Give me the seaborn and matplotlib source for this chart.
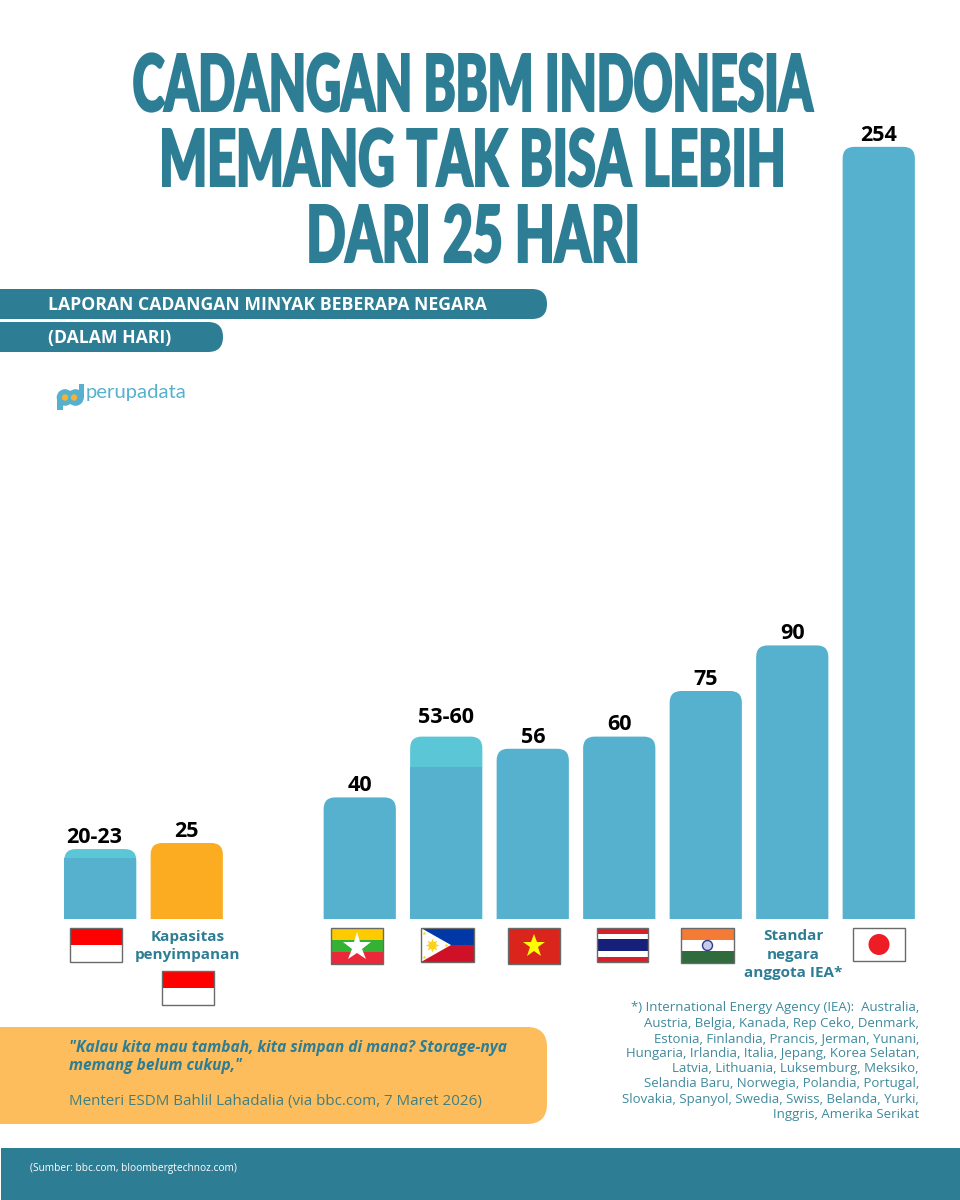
import numpy as np
import pandas as pd
import matplotlib
matplotlib.use("Agg")
import matplotlib.pyplot as plt
import seaborn as sns
from matplotlib.font_manager import FontProperties
from matplotlib.patches import FancyBboxPatch, Rectangle, Polygon, Circle
from matplotlib.patheffects import AbstractPathEffect
from matplotlib.textpath import TextPath
from matplotlib.transforms import Affine2D

categories = ["Indonesia", "Kapasitas penyimpanan", "", "Myanmar", "Filipina", "Vietnam",
              "Thailand", "India", "Standar IEA", "Jepang"]
upper_values = [23, 25, 0, 40, 60, 56, 60, 75, 90, 254]
lower_values = [20, 0, 0, 0, 50, 0, 0, 0, 0, 0]
value_labels = ["20-23", "25", "", "40", "53-60", "56", "60", "75", "90", "254"]
title_lines = ["CADANGAN BBM INDONESIA", "MEMANG TAK BISA LEBIH", "DARI 25 HARI"]
note_lines = ["*) International Energy Agency (IEA):  Australia,",
              "Austria, Belgia, Kanada, Rep Ceko, Denmark,",
              "Estonia, Finlandia, Prancis, Jerman, Yunani,",
              "Hungaria, Irlandia, Italia, Jepang, Korea Selatan,",
              "Latvia, Lithuania, Luksemburg, Meksiko,",
              "Selandia Baru, Norwegia, Polandia, Portugal,",
              "Slovakia, Spanyol, Swedia, Swiss, Belanda, Yurki,",
              "Inggris, Amerika Serikat"]

TEAL = "#2d7d94"
BAR = "#55b1cd"
CAP = "#5ac6d6"
ORANGE = "#fbac20"
QUOTE = "#fdbd5c"

sns.set_theme(style="white")
plt.rcParams["font.family"] = ["Open Sans", "DejaVu Sans"]

fig = plt.figure(figsize=(9.6, 12), dpi=100, facecolor="white")
bg = fig.add_axes([0, 0, 1, 1])
bg.set_xlim(0, 960); bg.set_ylim(1200, 0); bg.axis("off")


def pill(x0, y0, x1, y1, r, color):
    bg.add_patch(FancyBboxPatch((x0 - 40, y0), x1 - x0 + 40, y1 - y0,
                                boxstyle=f"round,pad=0,rounding_size={r}", fc=color, ec="none"))


# ---------- bars ----------
px_per_day = 3.04
ax = fig.add_axes([57.0 / 960, (1200 - 919) / 1200, 865 / 960, 919 / 1200])
ax.patch.set_alpha(0)
df = pd.DataFrame({"cat": categories, "upper": upper_values, "lower": lower_values})
sns.barplot(data=df, x="cat", y="upper", order=categories, width=0.835, color=BAR,
            saturation=1, ax=ax, errorbar=None)
ax.set_xlim(-0.5, 9.5)
ax.set_ylim(0, 919 / px_per_day)
ax.axis("off")
bars = list(ax.patches)
aspect = 86.5 / px_per_day
for i, b in enumerate(bars):
    h = b.get_height()
    b.set_visible(False)
    if h <= 0:
        continue
    low = lower_values[i]
    col = ORANGE if i == 1 else (CAP if low else BAR)
    ax.add_patch(FancyBboxPatch((b.get_x(), -20), b.get_width(), h + 20,
                                boxstyle="round,pad=0,rounding_size=0.135",
                                mutation_aspect=aspect, fc=col, ec="none"))
    if low:
        ax.add_patch(Rectangle((b.get_x(), 0), b.get_width(), low, fc=BAR, ec="none"))
    # the Philippine range label sits higher than the others in the reference
    ax.annotate(value_labels[i], (b.get_x() + b.get_width() / 2, h),
                xytext=(-4.3 if i == 0 else 0, 10 if i == 4 else 4.4),
                textcoords="offset points", ha="center", va="baseline",
                fontsize=15.5, fontweight="bold", color="black")


# ---------- title: real text, condensed by a stretching path effect ----------
class Stretch(AbstractPathEffect):
    def __init__(self, sx, sy, cx, cy, lw):
        super().__init__()
        self.sx, self.sy, self.cx, self.cy, self.lw = sx, sy, cx, cy, lw

    def draw_path(self, renderer, gc, tpath, affine, rgbFace=None):
        gc0 = renderer.new_gc()
        gc0.copy_properties(gc)
        gc0.set_linewidth(self.lw)
        gc0.set_foreground(rgbFace)
        gc0.set_joinstyle("miter")
        tr = affine + Affine2D().translate(-self.cx, -self.cy).scale(self.sx, self.sy).translate(self.cx, self.cy)
        renderer.draw_path(gc0, tpath, tr, rgbFace)
        gc0.restore()


title_fp = FontProperties(family="Lato", weight=900)
PT = 100 / 72
stroke_pt = 1.6
stroke_px = stroke_pt * PT
targets = [(132, 813, 112), (162, 783, 187), (309, 637, 263)]
w_unit = [TextPath((0, 0), t, size=1, prop=title_fp).get_extents().width * PT for t in title_lines]
cap_unit = TextPath((0, 0), "H", size=1, prop=title_fp).get_extents().height * PT
title_size = (targets[0][1] - targets[0][0] - stroke_px) / w_unit[0]
sy = (59 - stroke_px) / (cap_unit * title_size)
for line, wu, (x0, x1, base) in zip(title_lines, w_unit, targets):
    xc = (x0 + x1) / 2
    sx = (x1 - x0 - stroke_px) / (wu * title_size)
    cx, cy = bg.transData.transform((xc, base - stroke_px / 2))
    bg.text(xc, base - stroke_px / 2, line, ha="center", va="baseline", fontsize=title_size,
            family="Lato", weight=900, color=TEAL,
            path_effects=[Stretch(sx, sy, cx, cy, stroke_pt)])

# ---------- bands ----------
pill(0, 289, 547, 319, 15, TEAL)
pill(0, 322, 223, 352, 15, TEAL)
bg.text(48, 304.5, "LAPORAN CADANGAN MINYAK BEBERAPA NEGARA", color="white", fontsize=12.7,
        fontweight="bold", va="center")
bg.text(48, 337.5, "(DALAM HARI)", color="white", fontsize=12.7, fontweight="bold", va="center")

# logo
for cxx in (65, 75.5):
    bg.add_patch(Circle((cxx, 397.5), 8.3, fc=BAR, ec="none"))
bg.add_patch(Rectangle((57, 397), 5.5, 12.5, fc=BAR, ec="none"))
bg.add_patch(Rectangle((79, 384), 4.8, 14, fc=BAR, ec="none"))
bg.add_patch(Circle((65, 397.5), 3.2, fc="#f5b335", ec="none"))
bg.add_patch(Circle((74, 397.5), 3.2, fc="#f5b335", ec="none"))
bg.text(86, 392.5, "perupadata", color=BAR, fontsize=14.6, va="center",
        family=["Lato", "DejaVu Sans"])


# ---------- flags ----------
def frame(x, y, w, h):
    bg.add_patch(Rectangle((x, y), w, h, fc="none", ec="#6a6a6a", lw=1.0, zorder=5))


def bands(x, y, w, h, cols):
    n = len(cols)
    for k, c in enumerate(cols):
        bg.add_patch(Rectangle((x, y + h * k / n), w, h / n, fc=c, ec="none"))


def indonesia(x, y):
    bands(x, y, 52, 34, ["#ff0000", "white"]); frame(x, y, 52, 34)


indonesia(70, 928)
indonesia(162, 971)
# Myanmar
bands(331, 928, 52, 36, ["#fecb00", "#34b233", "#ea2839"]); frame(331, 928, 52, 36)
bg.plot([357], [946.5], marker="*", ms=21, color="white", mew=0)
# Philippines
bands(421, 928, 53, 34, ["#0038a8", "#ce1126"])
bg.add_patch(Polygon([(421, 928), (451, 945), (421, 962)], fc="white", ec="none"))
bg.plot([432], [945], marker=(8, 1, 0), ms=10, color="#fcd116", mew=0)
for sxx, syy in [(424, 933), (424, 957), (446, 945)]:
    bg.plot([sxx], [syy], marker="*", ms=3, color="#fcd116", mew=0)
frame(421, 928, 53, 34)
# Vietnam
bg.add_patch(Rectangle((508, 928), 52, 36, fc="#da251d", ec="none"))
bg.plot([534], [946], marker="*", ms=17, color="#ffff00", mew=0)
frame(508, 928, 52, 36)
# Thailand
for yy, hh, c in [(928, 34, "#d8202c"), (933.5, 23, "white"), (939, 12, "#16207a")]:
    bg.add_patch(Rectangle((597, yy), 51, hh, fc=c, ec="none"))
frame(597, 928, 51, 34)
# India
bands(681, 928, 53, 35, ["#f47b36", "white", "#2f6b3c"])
bg.add_patch(Circle((707.5, 945.5), 5, fc="#c8cbe8", ec="#2d3a8c", lw=1))
frame(681, 928, 53, 35)
# Japan
bg.add_patch(Rectangle((853, 928), 52, 33, fc="white", ec="none"))
bg.add_patch(Circle((879, 944.5), 10.5, fc="#ee1c25", ec="none"))
frame(853, 928, 52, 33)

# ---------- category notes ----------
for k, t in enumerate(["Kapasitas", "penyimpanan"]):
    bg.text(188, 936.5 + 18 * k, t, ha="center", va="center", color=TEAL, fontsize=11,
            fontweight="bold")
for k, t in enumerate(["Standar", "negara", "anggota IEA*"]):
    bg.text(793, 936.5 + 18 * k, t, ha="center", va="center", color=TEAL, fontsize=11,
            fontweight="bold")

# ---------- footnote ----------
for k, line in enumerate(note_lines):
    bg.text(919, 1008 + k * 15.2, line, ha="right", va="center", color="#3f8a9c", fontsize=9.5)

# ---------- quote ----------
pill(0, 1027, 547, 1124, 20, QUOTE)
bg.text(69, 1048, '"Kalau kita mau tambah, kita simpan di mana? Storage-nya', color=TEAL,
        fontsize=11.17, fontweight="bold", style="italic", va="center")
bg.text(69, 1066, 'memang belum cukup,"', color=TEAL, fontsize=11.17, fontweight="bold",
        style="italic", va="center")
bg.text(69, 1101, "Menteri ESDM Bahlil Lahadalia (via bbc.com, 7 Maret 2026)", color="#3f7f80",
        fontsize=10.9, va="center")

# ---------- footer ----------
bg.add_patch(Rectangle((1, 1148), 959, 52, fc=TEAL, ec="none"))
bg.text(30, 1168, "(Sumber: bbc.com, bloombergtechnoz.com)", color="white", fontsize=7.3, va="center")

fig.savefig("out.png", dpi=100, facecolor="white")
